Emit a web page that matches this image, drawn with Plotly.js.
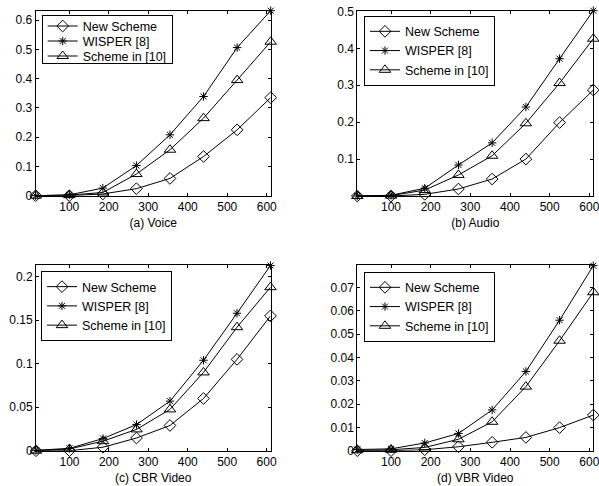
<!DOCTYPE html>
<html>
<head>
<meta charset="utf-8">
<script src="https://cdn.plot.ly/plotly-3.0.1.min.js"></script>
<style>html,body{margin:0;padding:0;background:#fff;}#chart{width:599px;height:486px;}</style>
</head>
<body>
<div id="chart"></div>
<script>
const xValues = [15, 100, 185, 270, 355, 440, 525, 610];
const seriesNames = ["New Scheme", "WISPER [8]", "Scheme in [10]"];
const panelTitles = ["(a) Voice", "(b) Audio", "(c) CBR Video", "(d) VBR Video"];

const voiceNew    = [0, 0, 0.006, 0.024, 0.059, 0.134, 0.225, 0.335];
const voiceWisper = [0, 0.003, 0.026, 0.103, 0.208, 0.339, 0.506, 0.632];
const voiceS10    = [0, 0.002, 0.011, 0.074, 0.157, 0.265, 0.395, 0.526];

const audioNew    = [0, 0, 0.0045, 0.019, 0.046, 0.100, 0.199, 0.287];
const audioWisper = [0, 0.002, 0.021, 0.084, 0.144, 0.241, 0.372, 0.502];
const audioS10    = [0, 0.001, 0.016, 0.057, 0.109, 0.197, 0.306, 0.426];

const cbrNew    = [0, 0, 0.004, 0.0146, 0.029, 0.060, 0.105, 0.155];
const cbrWisper = [0.0005, 0.0027, 0.014, 0.030, 0.057, 0.104, 0.158, 0.213];
const cbrS10    = [0, 0.002, 0.011, 0.0245, 0.0475, 0.090, 0.142, 0.188];

const vbrNew    = [0, 0, 0.0004, 0.0017, 0.0036, 0.0057, 0.0099, 0.0153];
const vbrWisper = [0.0005, 0.0008, 0.0033, 0.0074, 0.0175, 0.034, 0.056, 0.0794];
const vbrS10    = [0.0002, 0.0004, 0.0014, 0.0049, 0.0124, 0.0275, 0.0472, 0.068];

const xTicks = [100, 200, 300, 400, 500, 600];
const yTicksA = [0, 0.1, 0.2, 0.3, 0.4, 0.5, 0.6];
const yTicksB = [0.1, 0.2, 0.3, 0.4, 0.5];
const yTicksC = [0, 0.05, 0.1, 0.15, 0.2];
const yTicksD = [0, 0.01, 0.02, 0.03, 0.04, 0.05, 0.06, 0.07];

const panels = [
  {data: [voiceNew, voiceWisper, voiceS10], yr: [0, 0.632], yt: yTicksA},
  {data: [audioNew, audioWisper, audioS10], yr: [0, 0.502], yt: yTicksB},
  {data: [cbrNew, cbrWisper, cbrS10], yr: [0, 0.2135], yt: yTicksC},
  {data: [vbrNew, vbrWisper, vbrS10], yr: [0, 0.0797], yt: yTicksD}
];

const symbols = ["diamond-open", "asterisk-open", "triangle-up-open"];
const sizes = [9, 7, 10];
const W = 599, H = 486;
const boxes = [
  {l: 35.7, r: 270.7, t: 10.7, b: 195.7, lx: 41.7, ly: 15},
  {l: 357.3, r: 593.3, t: 10.7, b: 196, lx: 364, ly: 15.7},
  {l: 36, r: 270.5, t: 265, b: 450.7, lx: 41, ly: 271},
  {l: 357.3, r: 593.3, t: 265, b: 450.7, lx: 364, ly: 271.7}
];

const font = {family: "Liberation Sans, Arial, sans-serif", size: 12, color: "#000"};
const legFont = {family: "Liberation Sans, Arial, sans-serif", size: 12.5, color: "#000"};
const traces = [];
const layout = {
  width: W, height: H,
  margin: {l: 0, r: 0, t: 0, b: 0},
  paper_bgcolor: "#fff", plot_bgcolor: "#fff",
  font: font,
  showlegend: true
};

panels.forEach((p, i) => {
  const n = i + 1;
  const xa = n === 1 ? "x" : "x" + n;
  const ya = n === 1 ? "y" : "y" + n;
  const lg = n === 1 ? "legend" : "legend" + n;
  p.data.forEach((ys, k) => {
    traces.push({
      x: xValues, y: ys, xaxis: xa, yaxis: ya, legend: lg,
      name: seriesNames[k], type: "scatter", mode: "lines+markers",
      line: {color: "#000", width: 1},
      marker: {symbol: symbols[k], size: sizes[k], color: "#000", line: {color: "#000", width: 1}},
      cliponaxis: false
    });
  });
  const b = boxes[i];
  const axCommon = {
    showline: true, linecolor: "#000", linewidth: 1, mirror: "ticks",
    ticks: "inside", ticklen: 3, tickcolor: "#000", tickwidth: 1,
    showgrid: false, zeroline: false, tickfont: font, automargin: false,
    ticklabeloverflow: "allow"
  };
  layout["xaxis" + (n === 1 ? "" : n)] = Object.assign({}, axCommon, {
    domain: [b.l / W, b.r / W], range: [15, 610], tickmode: "array", tickvals: xTicks,
    anchor: ya, title: {text: panelTitles[i], font: font, standoff: 5}
  });
  layout["yaxis" + (n === 1 ? "" : n)] = Object.assign({}, axCommon, {
    domain: [1 - b.b / H, 1 - b.t / H], range: p.yr, tickmode: "array", tickvals: p.yt,
    anchor: xa
  });
  layout[lg] = {
    x: b.lx / W, y: 1 - b.ly / H, xanchor: "left", yanchor: "top",
    bgcolor: "#fff", bordercolor: "#000", borderwidth: 1,
    font: legFont, tracegroupgap: 0, itemwidth: 30
  };
});

// Tighten legend row spacing to match the reference (15 px per row).
function tightenLegends(gd) {
  const ROW = 15, FIRST = 11;
  gd.querySelectorAll("g.legend").forEach(leg => {
    const items = Array.from(leg.querySelectorAll("g.traces"));
    const pos = items.map(el => {
      const m = /translate\(\s*([-\d.e]+)[ ,]+([-\d.e]+)\s*\)/.exec(el.getAttribute("transform") || "");
      return m ? {el, x: +m[1], y: +m[2]} : null;
    }).filter(Boolean).sort((a, b) => a.y - b.y);
    if (pos.length < 2) return;
    pos.forEach((p, k) => p.el.setAttribute("transform", "translate(" + p.x + "," + (FIRST + k * ROW) + ")"));
    const bg = leg.querySelector("rect.bg");
    if (bg) {
      bg.setAttribute("height", 48);
      bg.setAttribute("width", 130);
    }
  });
}

Plotly.newPlot("chart", traces, layout, {staticPlot: true, displayModeBar: false})
  .then(gd => tightenLegends(gd));
</script>
</body>
</html>
